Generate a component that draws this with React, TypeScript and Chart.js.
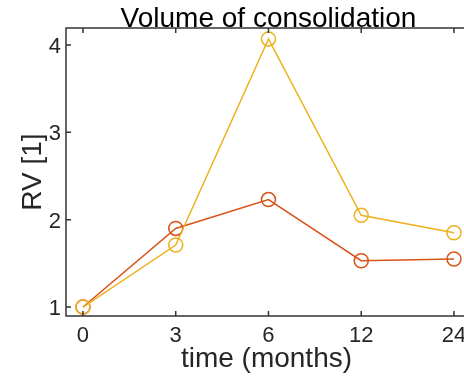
import React, { useEffect, useRef } from "react";
import { Chart, registerables } from "chart.js";

Chart.register(...registerables);

const categories = ["0", "3", "6", "12", "24"];
const orangeValues = [1.0, 1.9, 2.23, 1.53, 1.55];
const yellowValues = [1.0, 1.71, 4.07, 2.05, 1.85];
const yTicks = [1, 2, 3, 4];

const titleText = "Volume of consolidation";
const xTitle = "time (months)";
const yTitle = "RV [1]";
const FONT = '"Liberation Sans", Arial, Helvetica, sans-serif';

const axesPlugin = {
  id: "matlabAxes",
  afterDatasetsDraw(chart: any) {
    const ctx = chart.ctx as CanvasRenderingContext2D;
    const { left, right, top, bottom } = chart.chartArea;
    const xs = chart.scales.x;
    const ys = chart.scales.y;
    // full axes box extends past the canvas edge (right side clipped in the original)
    const boxRight = xs.getPixelForValue(4.183);
    const cx = (left + boxRight) / 2;
    ctx.save();
    ctx.strokeStyle = "#333333";
    ctx.lineWidth = 1.5;
    ctx.beginPath();
    ctx.moveTo(boxRight, top);
    ctx.lineTo(left, top);
    ctx.lineTo(left, bottom);
    ctx.lineTo(boxRight, bottom);
    ctx.stroke();
    // ticks
    const tl = 5;
    ctx.beginPath();
    categories.forEach((_, i) => {
      const px = xs.getPixelForValue(i);
      ctx.moveTo(px, bottom);
      ctx.lineTo(px, bottom - tl);
      ctx.moveTo(px, top);
      ctx.lineTo(px, top + tl);
    });
    yTicks.forEach((v) => {
      const py = ys.getPixelForValue(v);
      ctx.moveTo(left, py);
      ctx.lineTo(left + tl, py);
    });
    ctx.stroke();
    // tick labels
    ctx.fillStyle = "#262626";
    ctx.font = `22px ${FONT}`;
    ctx.textAlign = "center";
    ctx.textBaseline = "alphabetic";
    categories.forEach((c, i) => {
      ctx.fillText(c, xs.getPixelForValue(i), bottom + 26);
    });
    ctx.textAlign = "right";
    yTicks.forEach((v) => {
      ctx.fillText(String(v), left - 5, ys.getPixelForValue(v) + 8);
    });
    // axis titles
    ctx.font = `28px ${FONT}`;
    ctx.textAlign = "center";
    ctx.fillStyle = "#262626";
    ctx.fillText(xTitle, cx - 2, 367);
    ctx.save();
    ctx.translate(41, (top + bottom) / 2);
    ctx.rotate(-Math.PI / 2);
    ctx.fillText(yTitle, 0, 0);
    ctx.restore();
    ctx.fillStyle = "#000000";
    ctx.fillText(titleText, cx, 27);
    ctx.restore();
  },
};

export default function App() {
  const ref = useRef<HTMLCanvasElement | null>(null);
  useEffect(() => {
    if (!ref.current) return;
    const toPts = (arr: number[]) => arr.map((y, i) => ({ x: i, y }));
    const chart = new Chart(ref.current, {
      type: "line",
      data: {
        datasets: [
          {
            label: "yellow",
            data: toPts(yellowValues),
            borderColor: "#EDB120",
            backgroundColor: "transparent",
            pointBackgroundColor: "transparent",
            pointBorderColor: "#EDB120",
            borderWidth: 1.5,
            pointRadius: 7,
            pointBorderWidth: 1.5,
            order: 0,
          },
          {
            label: "orange",
            data: toPts(orangeValues),
            borderColor: "#D95319",
            backgroundColor: "transparent",
            pointBackgroundColor: "transparent",
            pointBorderColor: "#D95319",
            borderWidth: 1.5,
            pointRadius: 7,
            pointBorderWidth: 1.5,
            order: 1,
          },
        ],
      },
      options: {
        responsive: false,
        animation: false,
        layout: { autoPadding: false, padding: { left: 66, right: 0, top: 28, bottom: 65 } },
        plugins: { legend: { display: false }, title: { display: false }, tooltip: { enabled: false } },
        scales: {
          x: { type: "linear", min: -0.183, max: 4.108, display: false },
          y: { type: "linear", min: 0.897, max: 4.195, display: false },
        },
        elements: { line: { tension: 0 } },
      },
      plugins: [axesPlugin],
    });
    return () => chart.destroy();
  }, []);
  return (
    <div style={{ position: "fixed", left: 0, top: 0, width: 464, height: 381, background: "#fff", overflow: "hidden" }}>
      <canvas ref={ref} width={464} height={381} />
    </div>
  );
}
